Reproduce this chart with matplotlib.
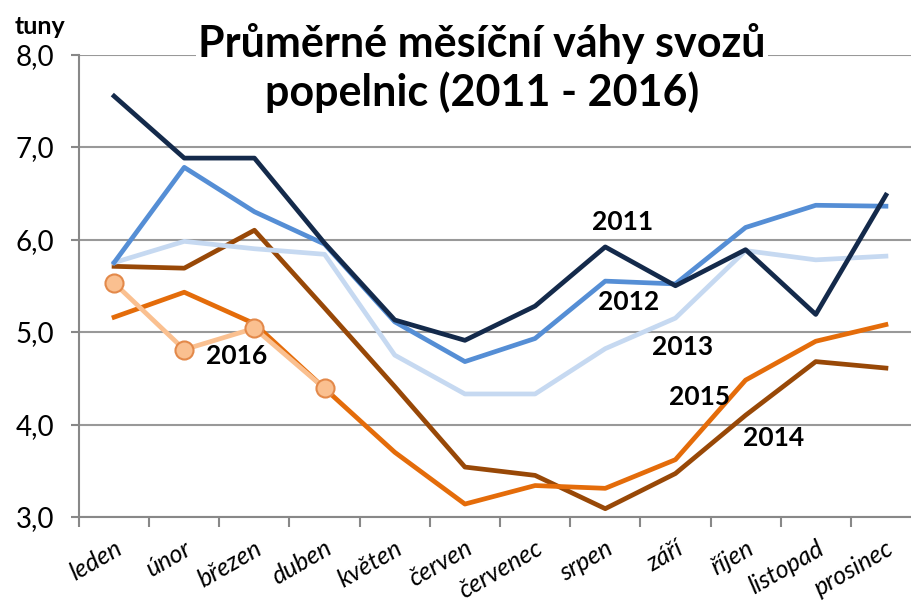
import matplotlib
matplotlib.use("Agg")
import matplotlib.pyplot as plt

# Průměrné měsíční váhy svozů popelnic, tuny
months = ["leden", "únor", "březen", "duben", "květen", "červen",
          "červenec", "srpen", "září", "říjen", "listopad", "prosinec"]
y2011 = [7.55, 6.88, 6.88, 5.96, 5.13, 4.91, 5.28, 5.92, 5.50, 5.89, 5.19, 6.48]
y2012 = [5.75, 6.78, 6.30, 5.95, 5.11, 4.68, 4.93, 5.55, 5.52, 6.13, 6.37, 6.36]
y2013 = [5.75, 5.98, 5.90, 5.84, 4.75, 4.33, 4.33, 4.82, 5.15, 5.88, 5.78, 5.82]
y2014 = [5.71, 5.69, 6.10, 5.26, 4.41, 3.54, 3.45, 3.09, 3.47, 4.10, 4.68, 4.61]
y2015 = [5.16, 5.43, 5.09, 4.39, 3.70, 3.14, 3.34, 3.31, 3.62, 4.48, 4.90, 5.08]
y2016 = [5.53, 4.81, 5.04, 4.39]

plt.rcParams['font.family'] = ['Lato', 'DejaVu Sans']

fig = plt.figure(figsize=(9.12, 6.03), dpi=100)
ax = fig.add_axes([79 / 912, 1 - 517 / 603, 842 / 912, 462.5 / 603])

x = list(range(len(months)))
lw = 3.4
ax.plot(x, y2014, color="#984807", lw=lw, zorder=3)
ax.plot(x, y2015, color="#E46C0A", lw=lw, zorder=3)
ax.plot(x, y2013, color="#C6D9F1", lw=lw, zorder=3)
ax.plot(x, y2012, color="#558ED5", lw=lw, zorder=4)
ax.plot(x, y2011, color="#142A4B", lw=lw, zorder=5)
ax.plot(x[:len(y2016)], y2016, color="#FAC090", lw=lw, marker="o", ms=13,
        mfc="#FAC090", mec="#E3894A", mew=1.5, zorder=6)

ax.set_xlim(-0.5, 11.5)
ax.set_ylim(3, 8)
ax.set_yticks([3, 4, 5, 6, 7, 8])
ax.set_yticklabels(["3,0", "4,0", "5,0", "6,0", "7,0", "8,0"], fontsize=20)
ax.set_xticks(x)
ax.set_xticklabels(months, fontsize=18, style="italic", rotation=30,
                   ha="right", rotation_mode="anchor")
ax.set_xticks([i - 0.5 for i in range(13)], minor=True)
ax.tick_params(axis="x", which="major", length=0, pad=14)
ax.tick_params(axis="x", which="minor", length=7, color="#888888", width=1.5)
ax.tick_params(axis="y", length=6, color="#888888", width=1.5, pad=12)

ax.grid(axis="y", color="#999999", lw=1.5, zorder=0)
for s in ["top", "right"]:
    ax.spines[s].set_visible(False)
ax.spines["left"].set_color("#888888")
ax.spines["left"].set_linewidth(1.5)
ax.spines["bottom"].set_color("#888888")
ax.spines["bottom"].set_linewidth(1.5)

lab = dict(fontsize=19, fontweight="bold", ha="center", va="center", zorder=7)
ax.text(7.25, 6.19, "2011", **lab)
ax.text(7.33, 5.32, "2012", **lab)
ax.text(8.1, 4.84, "2013", **lab)
ax.text(8.35, 4.30, "2015", **lab)
ax.text(9.4, 3.85, "2014", **lab)
ax.text(1.74, 4.74, "2016", **lab)

fig.text(40 / 912, 1 - 27 / 603, "tuny", fontsize=18, fontweight="bold",
         ha="center", va="center")
fig.text(482 / 912, 1 - 68 / 603, "Průměrné měsíční váhy svozů\npopelnic (2011 - 2016)",
         fontsize=31, fontweight="bold", ha="center", va="center",
         linespacing=1.2, zorder=10,
         bbox=dict(facecolor="white", edgecolor="none", pad=2))

fig.savefig("out.png", dpi=100)
